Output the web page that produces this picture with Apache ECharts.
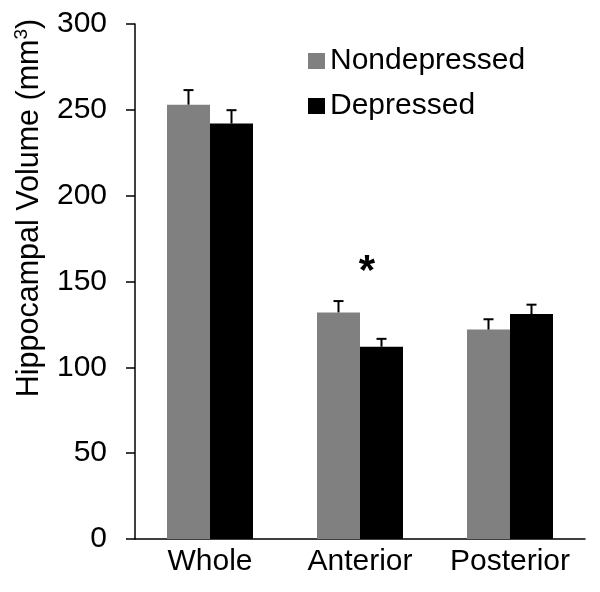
<!DOCTYPE html>
<html><head><meta charset="utf-8">
<script src="https://cdn.jsdelivr.net/npm/echarts@6/dist/echarts.min.js"></script>
<style>html,body{margin:0;padding:0;background:#fff}#c{width:600px;height:592px}</style>
</head><body><div id="c"></div>
<script>
const categories = ['Whole', 'Anterior', 'Posterior'];
const nondepressed = [253, 132, 122];
const nondepressedErr = [8.5, 6.6, 6];
const depressed = [242, 112, 131];
const depressedErr = [7.8, 4.6, 5.5];
const yTicks = [0, 50, 100, 150, 200, 250, 300];
const starCategory = 1;
const starValue = 155;

const FONT = '"Liberation Sans", Arial, sans-serif';
const BAR_W = 43;

function errSeries(name, means, errs, side) {
  return {
    type: 'custom',
    name: name + ' err',
    z: 5,
    data: means.map((m, i) => [i, m, m + errs[i]]),
    renderItem: function (params, api) {
      const i = api.value(0);
      const p0 = api.coord([i, api.value(1)]);
      const p1 = api.coord([i, api.value(2)]);
      const x = p0[0] + side * BAR_W / 2;
      const half = 5;
      return {
        type: 'group',
        children: [
          { type: 'line', shape: { x1: x, y1: p0[1], x2: x, y2: p1[1] }, style: { stroke: '#000', lineWidth: 2 } },
          { type: 'line', shape: { x1: x - half, y1: p1[1], x2: x + half, y2: p1[1] }, style: { stroke: '#000', lineWidth: 2 } }
        ]
      };
    }
  };
}

const chart = echarts.init(document.getElementById('c'), null, { renderer: 'canvas' });
chart.setOption({
  animation: false,
  backgroundColor: '#fff',
  grid: { left: 135, right: 15, top: 24, bottom: 53 },
  legend: {
    data: ['Nondepressed', 'Depressed'],
    orient: 'vertical',
    left: 303,
    top: 41,
    itemWidth: 17,
    itemHeight: 16,
    itemGap: 15,
    icon: 'rect',
    textStyle: { fontFamily: FONT, fontSize: 30, color: '#000', padding: [0, 0, 0, 0] }
  },
  xAxis: {
    type: 'category',
    data: categories,
    axisLine: { lineStyle: { color: '#000', width: 1.5 } },
    axisTick: { show: false },
    axisLabel: { fontFamily: FONT, fontSize: 30, color: '#000', margin: 8, interval: 0, hideOverlap: false }
  },
  yAxis: {
    type: 'value',
    min: yTicks[0],
    max: yTicks[yTicks.length - 1],
    interval: yTicks[1] - yTicks[0],
    splitLine: { show: false },
    axisLine: { show: true, lineStyle: { color: '#000', width: 1.5 } },
    axisTick: { show: true, length: 9, lineStyle: { color: '#000', width: 1.5 } },
    axisLabel: { fontFamily: FONT, fontSize: 30, color: '#000', margin: 28 }
  },
  graphic: [{
    type: 'text',
    x: 29, y: 208,
    rotation: Math.PI / 2,
    style: {
      text: '{a|Hippocampal Volume (mm}{s|3}{a|)}',
      align: 'center',
      verticalAlign: 'middle',
      fill: '#000',
      rich: {
        a: { fontFamily: FONT, fontSize: 30.5, fill: '#000', verticalAlign: 'bottom' },
        s: { fontFamily: FONT, fontSize: 19, fill: '#000', verticalAlign: 'top', padding: [0, 0, 14, 0] }
      }
    }
  }],
  series: [
    { type: 'bar', name: 'Nondepressed', data: nondepressed, barWidth: BAR_W, barGap: '0%', itemStyle: { color: '#808080' } },
    { type: 'bar', name: 'Depressed', data: depressed, barWidth: BAR_W, barGap: '0%', itemStyle: { color: '#000000' } },
    errSeries('Nondepressed', nondepressed, nondepressedErr, -1),
    errSeries('Depressed', depressed, depressedErr, 1),
    {
      type: 'custom',
      name: 'sig',
      z: 10,
      data: [[starCategory, starValue]],
      renderItem: function (params, api) {
        const p = api.coord([api.value(0), api.value(1)]);
        return {
          type: 'text',
          x: p[0] + 7,
          y: p[1],
          style: { text: '*', align: 'center', verticalAlign: 'middle', font: 'bold 42px ' + FONT, fill: '#000' }
        };
      }
    }
  ]
});
</script></body></html>
